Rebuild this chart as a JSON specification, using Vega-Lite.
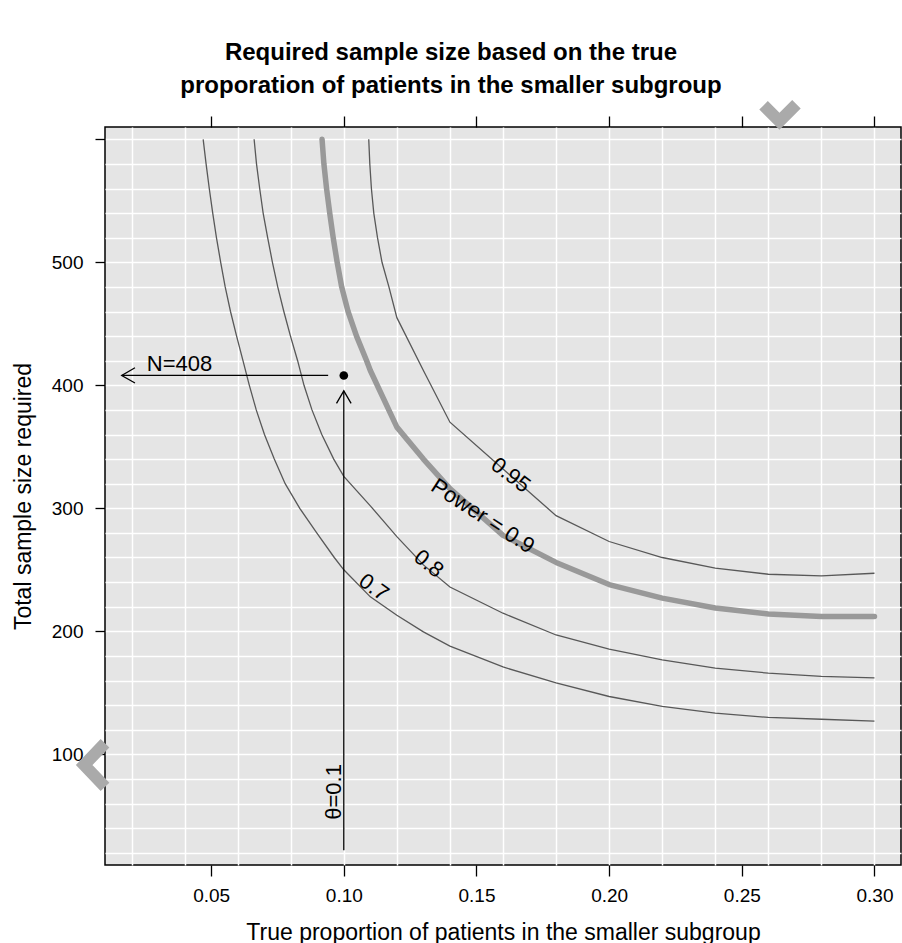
{
  "$schema": "https://vega.github.io/schema/vega-lite/v6.json",
  "width": 796,
  "height": 738,
  "autosize": {"type": "none"},
  "padding": {"left": 105, "top": 127, "right": 1, "bottom": 78},
  "background": "white",
  "view": {"fill": "#e5e5e5", "stroke": "black", "strokeWidth": 1.5},
  "title": {
    "text": ["Required sample size based on the true", "proporation of patients in the smaller subgroup"],
    "font": "Liberation Sans",
    "fontSize": 24,
    "fontWeight": "bold",
    "color": "black",
    "anchor": "middle",
    "frame": "group",
    "dx": -52,
    "dy": 38,
    "offset": 20,
    "lineHeight": 33
  },
  "config": {
    "font": "Liberation Sans",
    "axis": {"labelFont": "Liberation Sans", "titleFont": "Liberation Sans", "labelColor": "black", "titleColor": "black", "tickColor": "black", "titleFontWeight": "normal"}
  },
  "datasets": {
    "curves": [
      {"power": "0.7", "theta": 0.0470, "n": 600},
      {"power": "0.7", "theta": 0.0481, "n": 580},
      {"power": "0.7", "theta": 0.0493, "n": 560},
      {"power": "0.7", "theta": 0.0506, "n": 540},
      {"power": "0.7", "theta": 0.0520, "n": 520},
      {"power": "0.7", "theta": 0.0536, "n": 500},
      {"power": "0.7", "theta": 0.0553, "n": 480},
      {"power": "0.7", "theta": 0.0573, "n": 460},
      {"power": "0.7", "theta": 0.0596, "n": 440},
      {"power": "0.7", "theta": 0.0620, "n": 420},
      {"power": "0.7", "theta": 0.0644, "n": 400},
      {"power": "0.7", "theta": 0.0670, "n": 380},
      {"power": "0.7", "theta": 0.0701, "n": 360},
      {"power": "0.7", "theta": 0.0738, "n": 340},
      {"power": "0.7", "theta": 0.0779, "n": 320},
      {"power": "0.7", "theta": 0.0834, "n": 300},
      {"power": "0.7", "theta": 0.0898, "n": 280},
      {"power": "0.7", "theta": 0.0964, "n": 260},
      {"power": "0.7", "theta": 0.10, "n": 250},
      {"power": "0.7", "theta": 0.11, "n": 228},
      {"power": "0.7", "theta": 0.12, "n": 213},
      {"power": "0.7", "theta": 0.13, "n": 199.5},
      {"power": "0.7", "theta": 0.14, "n": 188},
      {"power": "0.7", "theta": 0.16, "n": 171},
      {"power": "0.7", "theta": 0.18, "n": 158},
      {"power": "0.7", "theta": 0.20, "n": 147},
      {"power": "0.7", "theta": 0.22, "n": 139},
      {"power": "0.7", "theta": 0.24, "n": 133.5},
      {"power": "0.7", "theta": 0.26, "n": 130},
      {"power": "0.7", "theta": 0.28, "n": 128.5},
      {"power": "0.7", "theta": 0.30, "n": 127},
      {"power": "0.8", "theta": 0.0662, "n": 600},
      {"power": "0.8", "theta": 0.0671, "n": 580},
      {"power": "0.8", "theta": 0.0683, "n": 560},
      {"power": "0.8", "theta": 0.0696, "n": 540},
      {"power": "0.8", "theta": 0.0713, "n": 520},
      {"power": "0.8", "theta": 0.0731, "n": 500},
      {"power": "0.8", "theta": 0.0751, "n": 480},
      {"power": "0.8", "theta": 0.0774, "n": 460},
      {"power": "0.8", "theta": 0.0799, "n": 440},
      {"power": "0.8", "theta": 0.0826, "n": 420},
      {"power": "0.8", "theta": 0.0850, "n": 400},
      {"power": "0.8", "theta": 0.0880, "n": 380},
      {"power": "0.8", "theta": 0.0917, "n": 360},
      {"power": "0.8", "theta": 0.0962, "n": 340},
      {"power": "0.8", "theta": 0.10, "n": 326},
      {"power": "0.8", "theta": 0.11, "n": 302},
      {"power": "0.8", "theta": 0.12, "n": 277},
      {"power": "0.8", "theta": 0.13, "n": 254},
      {"power": "0.8", "theta": 0.14, "n": 236},
      {"power": "0.8", "theta": 0.16, "n": 214.7},
      {"power": "0.8", "theta": 0.18, "n": 197},
      {"power": "0.8", "theta": 0.20, "n": 185.5},
      {"power": "0.8", "theta": 0.22, "n": 176.8},
      {"power": "0.8", "theta": 0.24, "n": 170},
      {"power": "0.8", "theta": 0.26, "n": 166},
      {"power": "0.8", "theta": 0.28, "n": 163.3},
      {"power": "0.8", "theta": 0.30, "n": 162.2},
      {"power": "0.9", "theta": 0.0918, "n": 600},
      {"power": "0.9", "theta": 0.0925, "n": 580},
      {"power": "0.9", "theta": 0.0935, "n": 560},
      {"power": "0.9", "theta": 0.0947, "n": 540},
      {"power": "0.9", "theta": 0.0960, "n": 520},
      {"power": "0.9", "theta": 0.0975, "n": 500},
      {"power": "0.9", "theta": 0.0992, "n": 480},
      {"power": "0.9", "theta": 0.1016, "n": 460},
      {"power": "0.9", "theta": 0.1048, "n": 440},
      {"power": "0.9", "theta": 0.1086, "n": 420},
      {"power": "0.9", "theta": 0.11, "n": 412},
      {"power": "0.9", "theta": 0.12, "n": 366},
      {"power": "0.9", "theta": 0.13, "n": 340},
      {"power": "0.9", "theta": 0.14, "n": 316},
      {"power": "0.9", "theta": 0.16, "n": 278},
      {"power": "0.9", "theta": 0.18, "n": 256},
      {"power": "0.9", "theta": 0.20, "n": 238},
      {"power": "0.9", "theta": 0.22, "n": 227},
      {"power": "0.9", "theta": 0.24, "n": 219},
      {"power": "0.9", "theta": 0.26, "n": 214},
      {"power": "0.9", "theta": 0.28, "n": 212},
      {"power": "0.9", "theta": 0.30, "n": 212},
      {"power": "0.95", "theta": 0.1094, "n": 600},
      {"power": "0.95", "theta": 0.1098, "n": 580},
      {"power": "0.95", "theta": 0.1104, "n": 560},
      {"power": "0.95", "theta": 0.1113, "n": 540},
      {"power": "0.95", "theta": 0.1127, "n": 520},
      {"power": "0.95", "theta": 0.1144, "n": 500},
      {"power": "0.95", "theta": 0.1170, "n": 480},
      {"power": "0.95", "theta": 0.12, "n": 455},
      {"power": "0.95", "theta": 0.13, "n": 412},
      {"power": "0.95", "theta": 0.14, "n": 370},
      {"power": "0.95", "theta": 0.16, "n": 332},
      {"power": "0.95", "theta": 0.18, "n": 294},
      {"power": "0.95", "theta": 0.20, "n": 273},
      {"power": "0.95", "theta": 0.22, "n": 260},
      {"power": "0.95", "theta": 0.24, "n": 251.3},
      {"power": "0.95", "theta": 0.26, "n": 246.4},
      {"power": "0.95", "theta": 0.28, "n": 245},
      {"power": "0.95", "theta": 0.30, "n": 247.2}
    ],
    "arrows": [
      {"seg": "h", "theta": 0.0941, "n": 408},
      {"seg": "h", "theta": 0.0163, "n": 408},
      {"seg": "hh", "theta": 0.0213, "n": 414.3},
      {"seg": "hh", "theta": 0.0163, "n": 408},
      {"seg": "hh", "theta": 0.0213, "n": 401.9},
      {"seg": "v", "theta": 0.10, "n": 22},
      {"seg": "v", "theta": 0.10, "n": 395.5},
      {"seg": "vh", "theta": 0.09725, "n": 385.3},
      {"seg": "vh", "theta": 0.10, "n": 395.5},
      {"seg": "vh", "theta": 0.10275, "n": 385.3}
    ],
    "decor": [
      {"shape": "top", "theta": 0.2582, "n": 627.6},
      {"shape": "top", "theta": 0.2642, "n": 614.6},
      {"shape": "top", "theta": 0.2706, "n": 628.5},
      {"shape": "left", "theta": 0.0100, "n": 109},
      {"shape": "left", "theta": 0.00215, "n": 91.3},
      {"shape": "left", "theta": 0.0100, "n": 73.5}
    ],
    "labels": [
      {"label": "N=408", "theta": 0.0381, "n": 408},
      {"label": "θ=0.1", "theta": 0.10, "n": 69.4},
      {"label": "Power = 0.9", "theta": 0.1524, "n": 293.7},
      {"label": "0.95", "theta": 0.1629, "n": 327},
      {"label": "0.8", "theta": 0.132, "n": 255},
      {"label": "0.7", "theta": 0.1113, "n": 235.7}
    ],
    "sample": [
      {"theta": 0.10, "n": 408}
    ]
  },
  "resolve": {"axis": {"x": "independent", "y": "independent"}},
  "layer": [
    {
      "data": {"name": "curves"},
      "transform": [{"filter": "datum.power != '0.9'"}],
      "mark": {"type": "line", "color": "#585858", "strokeWidth": 1.3, "clip": false},
      "encoding": {
        "x": {
          "field": "theta", "type": "quantitative",
          "scale": {"domain": [0.01, 0.31], "nice": false, "zero": false},
          "axis": {"orient": "top", "values": [0.02, 0.04, 0.06, 0.08, 0.10, 0.12, 0.14, 0.16, 0.18, 0.20, 0.22, 0.24, 0.26, 0.28, 0.30], "grid": true, "gridColor": "white", "gridWidth": 1.5, "gridOpacity": 1, "ticks": false, "labels": false, "domain": false, "title": null}
        },
        "y": {
          "field": "n", "type": "quantitative",
          "scale": {"domain": [10, 610], "nice": false, "zero": false},
          "axis": {"orient": "right", "values": [20, 40, 60, 80, 100, 120, 140, 160, 180, 200, 220, 240, 260, 280, 300, 320, 340, 360, 380, 400, 420, 440, 460, 480, 500, 520, 540, 560, 580, 600], "grid": true, "gridColor": "white", "gridWidth": 1.5, "gridOpacity": 1, "ticks": false, "labels": false, "domain": false, "title": null}
        },
        "detail": {"field": "power"}
      }
    },
    {
      "data": {"name": "curves"},
      "transform": [{"filter": "datum.power == '0.9'"}],
      "mark": {"type": "line", "color": "#999999", "strokeWidth": 5.5, "strokeCap": "round", "strokeJoin": "round"},
      "encoding": {
        "x": {
          "field": "theta", "type": "quantitative",
          "axis": {"orient": "bottom", "values": [0.05, 0.10, 0.15, 0.20, 0.25, 0.30], "format": ".2f", "grid": false, "domain": false, "tickSize": 11, "tickWidth": 1.3, "labelFontSize": 19, "labelPadding": 10, "title": "True proportion of patients in the smaller subgroup", "titleFontSize": 23, "titlePadding": 16}
        },
        "y": {
          "field": "n", "type": "quantitative",
          "axis": {"orient": "left", "values": [100, 200, 300, 400, 500, 600], "labelExpr": "datum.value == 600 ? '' : datum.label", "grid": false, "domain": false, "tickSize": 10, "tickWidth": 1.3, "labelFontSize": 19, "labelPadding": 12, "title": "Total sample size required", "titleFontSize": 23, "titlePadding": 16}
        }
      }
    },
    {
      "data": {"name": "arrows"},
      "mark": {"type": "line", "color": "black", "strokeWidth": 1.3},
      "encoding": {
        "x": {
          "field": "theta", "type": "quantitative",
          "axis": {"orient": "top", "values": [0.05, 0.10, 0.15, 0.20, 0.25, 0.30], "grid": false, "domain": false, "labels": false, "tickSize": 11, "tickWidth": 1.3, "title": null}
        },
        "y": {"field": "n", "type": "quantitative", "axis": null},
        "detail": {"field": "seg"},
        "order": {"value": null}
      }
    },
    {
      "data": {"name": "decor"},
      "mark": {"type": "line", "color": "#aaaaaa", "strokeWidth": 12, "strokeJoin": "miter", "strokeCap": "butt", "clip": false},
      "encoding": {
        "x": {"field": "theta", "type": "quantitative", "axis": null},
        "y": {"field": "n", "type": "quantitative", "axis": null},
        "detail": {"field": "shape"},
        "order": {"value": null}
      }
    },
    {
      "data": {"name": "sample"},
      "mark": {"type": "point", "filled": true, "color": "black", "size": 75, "opacity": 1},
      "encoding": {
        "x": {"field": "theta", "type": "quantitative", "axis": null},
        "y": {"field": "n", "type": "quantitative", "axis": null}
      }
    },
    {
      "data": {"name": "labels"},
      "transform": [{"filter": "datum.label == 'N=408'"}],
      "mark": {"type": "text", "fontSize": 22, "color": "black", "align": "center", "baseline": "alphabetic", "dy": -4},
      "encoding": {
        "x": {"field": "theta", "type": "quantitative", "axis": null},
        "y": {"field": "n", "type": "quantitative", "axis": null},
        "text": {"field": "label"}
      }
    },
    {
      "data": {"name": "labels"},
      "transform": [{"filter": "datum.label == 'θ=0.1'"}],
      "mark": {"type": "text", "fontSize": 22, "color": "black", "align": "center", "baseline": "alphabetic", "angle": 270, "dy": -2.5},
      "encoding": {
        "x": {"field": "theta", "type": "quantitative", "axis": null},
        "y": {"field": "n", "type": "quantitative", "axis": null},
        "text": {"field": "label"}
      }
    },
    {
      "data": {"name": "labels"},
      "transform": [{"filter": "datum.label == 'Power = 0.9'"}],
      "mark": {"type": "text", "fontSize": 22, "color": "black", "align": "center", "baseline": "middle", "angle": 33},
      "encoding": {
        "x": {"field": "theta", "type": "quantitative", "axis": null},
        "y": {"field": "n", "type": "quantitative", "axis": null},
        "text": {"field": "label"}
      }
    },
    {
      "data": {"name": "labels"},
      "transform": [{"filter": "datum.label == '0.95'"}],
      "mark": {"type": "text", "fontSize": 22, "color": "black", "align": "center", "baseline": "middle", "angle": 37},
      "encoding": {
        "x": {"field": "theta", "type": "quantitative", "axis": null},
        "y": {"field": "n", "type": "quantitative", "axis": null},
        "text": {"field": "label"}
      }
    },
    {
      "data": {"name": "labels"},
      "transform": [{"filter": "datum.label == '0.8'"}],
      "mark": {"type": "text", "fontSize": 22, "color": "black", "align": "center", "baseline": "middle", "angle": 39},
      "encoding": {
        "x": {"field": "theta", "type": "quantitative", "axis": null},
        "y": {"field": "n", "type": "quantitative", "axis": null},
        "text": {"field": "label"}
      }
    },
    {
      "data": {"name": "labels"},
      "transform": [{"filter": "datum.label == '0.7'"}],
      "mark": {"type": "text", "fontSize": 22, "color": "black", "align": "center", "baseline": "middle", "angle": 36},
      "encoding": {
        "x": {"field": "theta", "type": "quantitative", "axis": null},
        "y": {"field": "n", "type": "quantitative", "axis": null},
        "text": {"field": "label"}
      }
    }
  ]
}
